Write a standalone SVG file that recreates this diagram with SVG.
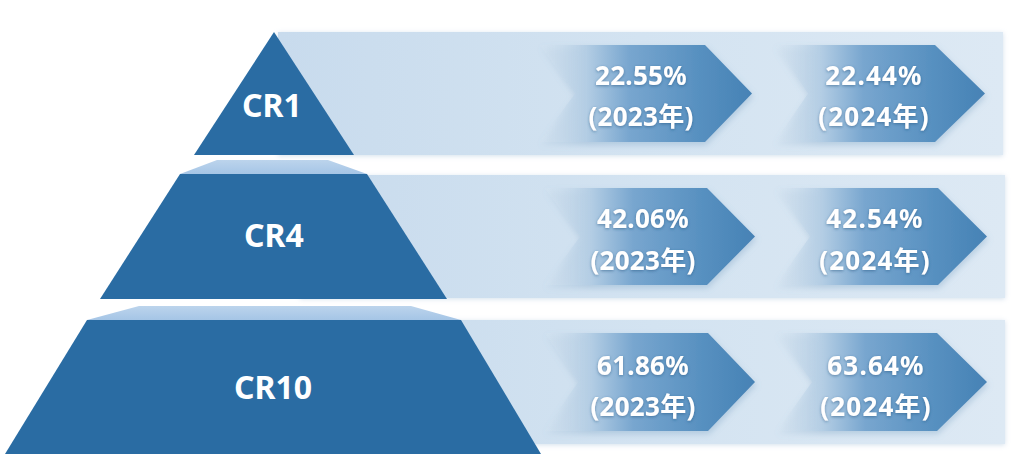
<svg xmlns="http://www.w3.org/2000/svg" width="1024" height="461" viewBox="0 0 1024 461">
  <defs>
    <linearGradient id="bandGrad" x1="0" y1="0" x2="1" y2="0">
      <stop offset="0" stop-color="#c8dbed"/>
      <stop offset="0.5" stop-color="#d3e3f1"/>
      <stop offset="1" stop-color="#dde9f4"/>
    </linearGradient>
    <linearGradient id="chevGrad" x1="0" y1="0" x2="1" y2="0">
      <stop offset="0" stop-color="#d5e4f1" stop-opacity="0.2"/>
      <stop offset="0.22" stop-color="#b3cde4"/>
      <stop offset="0.42" stop-color="#78a6cf"/>
      <stop offset="0.75" stop-color="#5790c0"/>
      <stop offset="1" stop-color="#4682b5"/>
    </linearGradient>
    <linearGradient id="faceGrad" x1="0" y1="0" x2="0" y2="1">
      <stop offset="0" stop-color="#bcd4ec"/>
      <stop offset="1" stop-color="#a5c5e6"/>
    </linearGradient>
    <filter id="bandShadow" x="-5%" y="-20%" width="110%" height="140%">
      <feDropShadow dx="0" dy="1" stdDeviation="2.5" flood-color="#9fbbd6" flood-opacity="0.45"/>
    </filter>
    <filter id="chevShadow" x="-10%" y="-20%" width="120%" height="140%">
      <feDropShadow dx="1" dy="3" stdDeviation="3" flood-color="#6f97bd" flood-opacity="0.35"/>
    </filter>
    <filter id="txtShadow" x="-20%" y="-40%" width="140%" height="180%">
      <feDropShadow dx="0" dy="1" stdDeviation="1.5" flood-color="#1f4f7c" flood-opacity="0.55"/>
    </filter>
  </defs>
  <style>
    .band { fill: url(#bandGrad); filter: url(#bandShadow); }
    .chev { fill: url(#chevGrad); filter: url(#chevShadow); }
    .dark { fill: #2a6ca3; }
    .face { fill: url(#faceGrad); }
    .lvl { font-family: "Noto Sans", "Noto Sans CJK SC", sans-serif; font-weight: 700; font-size: 32px; fill: #ffffff; text-anchor: middle; }
    .val { font-family: "Noto Sans", "Noto Sans CJK SC", sans-serif; font-weight: 700; font-size: 26px; fill: #ffffff; text-anchor: middle; filter: url(#txtShadow); }
    .y23 { letter-spacing: 0.3px; }
    .y24 { letter-spacing: 1.2px; }
  </style>
  <rect width="1024" height="461" fill="#ffffff"/>

  <!-- bands -->
  <g id="bands">
    <rect class="band" x="278" y="32" width="725" height="123"/>
    <rect class="band" x="300" y="175" width="705" height="123"/>
    <rect class="band" x="300" y="320" width="705" height="124"/>
  </g>

  <!-- pyramid levels -->
  <g id="cr1">
    <polygon class="dark" points="274,32 354,155 194,155"/>
    <text class="lvl" x="272" y="117">CR1</text>
  </g>
  <g id="cr4">
    <polygon class="face" points="217,160 328,160 367,174 180,174"/>
    <polygon class="dark" points="180,174 367,174 447,299 100,299"/>
    <text class="lvl" x="274" y="247">CR4</text>
  </g>
  <g id="cr10">
    <polygon class="face" points="139,306 411,306 461,320 87,320"/>
    <polygon class="dark" points="87,320 461,320 541,454 5,454"/>
    <text class="lvl" x="273" y="399">CR10</text>
  </g>

  <!-- row 1 chevrons -->
  <g id="cr1-2023">
    <polygon class="chev" points="540,45 705,45 752,93.5 705,142 540,142 575,93.5"/>
    <text class="val y23" x="641" y="85">22.55%</text>
    <text class="val y23" x="641" y="126">(2023年)</text>
  </g>
  <g id="cr1-2024">
    <polygon class="chev" points="775,45 935,45 985,93.5 935,142 775,142 808,93.5"/>
    <text class="val y24" x="874" y="85">22.44%</text>
    <text class="val y24" x="874" y="126">(2024年)</text>
  </g>

  <!-- row 2 chevrons -->
  <g id="cr4-2023">
    <polygon class="chev" points="545,188 707,188 755,236.5 707,285 545,285 580,236.5"/>
    <text class="val y23" x="643" y="228">42.06%</text>
    <text class="val y23" x="643" y="270">(2023年)</text>
  </g>
  <g id="cr4-2024">
    <polygon class="chev" points="776,188 938,188 987,236.5 938,285 776,285 810,236.5"/>
    <text class="val y24" x="875" y="228">42.54%</text>
    <text class="val y24" x="875" y="270">(2024年)</text>
  </g>

  <!-- row 3 chevrons -->
  <g id="cr10-2023">
    <polygon class="chev" points="545,333 708,333 755,382 708,431 545,431 578,382"/>
    <text class="val y23" x="643" y="375">61.86%</text>
    <text class="val y23" x="643" y="416">(2023年)</text>
  </g>
  <g id="cr10-2024">
    <polygon class="chev" points="777,333 937,333 987,382 937,431 777,431 812,382"/>
    <text class="val y24" x="876" y="375">63.64%</text>
    <text class="val y24" x="876" y="416">(2024年)</text>
  </g>
</svg>
